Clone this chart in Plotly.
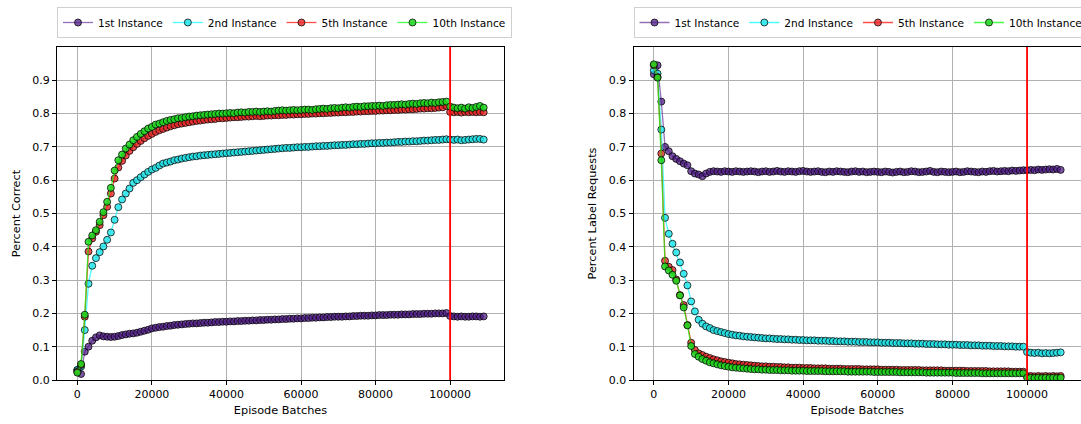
import plotly.graph_objects as go

episodes = [0, 1000, 2000, 3000, 4000, 5000, 6000, 7000, 8000, 9000,
            10000, 11000, 12000, 13000, 14000, 15000, 16000, 17000, 18000, 19000,
            20000, 21000, 22000, 23000, 24000, 25000, 26000, 27000, 28000, 29000,
            30000, 31000, 32000, 33000, 34000, 35000, 36000, 37000, 38000, 39000,
            40000, 41000, 42000, 43000, 44000, 45000, 46000, 47000, 48000, 49000,
            50000, 51000, 52000, 53000, 54000, 55000, 56000, 57000, 58000, 59000,
            60000, 61000, 62000, 63000, 64000, 65000, 66000, 67000, 68000, 69000,
            70000, 71000, 72000, 73000, 74000, 75000, 76000, 77000, 78000, 79000,
            80000, 81000, 82000, 83000, 84000, 85000, 86000, 87000, 88000, 89000,
            90000, 91000, 92000, 93000, 94000, 95000, 96000, 97000, 98000, 99000,
            100000, 101000, 102000, 103000, 104000, 105000, 106000, 107000, 108000, 109000]

series_names = ["1st Instance", "2nd Instance", "5th Instance", "10th Instance"]

# ---- Percent Correct ----
correct_1st = [0.030, 0.018, 0.085, 0.100, 0.118, 0.128, 0.134, 0.131, 0.130, 0.129,
               0.130, 0.132, 0.135, 0.137, 0.139, 0.140, 0.142, 0.145, 0.148, 0.151,
               0.155, 0.157, 0.159, 0.160, 0.162, 0.163, 0.165, 0.166, 0.167, 0.168,
               0.169, 0.170, 0.170, 0.171, 0.172, 0.172, 0.173, 0.174, 0.174, 0.175,
               0.175, 0.176, 0.176, 0.177, 0.177, 0.178, 0.178, 0.179, 0.179, 0.180,
               0.180, 0.181, 0.181, 0.182, 0.182, 0.183, 0.183, 0.184, 0.184, 0.185,
               0.185, 0.186, 0.186, 0.187, 0.187, 0.188, 0.188, 0.189, 0.189, 0.190,
               0.190, 0.190, 0.191, 0.191, 0.192, 0.192, 0.193, 0.193, 0.193, 0.194,
               0.194, 0.195, 0.195, 0.195, 0.196, 0.196, 0.196, 0.197, 0.197, 0.197,
               0.198, 0.198, 0.198, 0.199, 0.199, 0.199, 0.200, 0.200, 0.200, 0.201,
               0.192, 0.191, 0.190, 0.191, 0.190, 0.190, 0.191, 0.191, 0.190, 0.191]
correct_2nd = [0.030, 0.040, 0.150, 0.289, 0.343, 0.366, 0.384, 0.401, 0.421, 0.443,
               0.481, 0.519, 0.542, 0.560, 0.575, 0.592, 0.600, 0.609, 0.617, 0.625,
               0.632, 0.637, 0.644, 0.650, 0.653, 0.656, 0.660, 0.662, 0.665, 0.667,
               0.669, 0.671, 0.672, 0.674, 0.675, 0.676, 0.677, 0.678, 0.679, 0.680,
               0.681, 0.682, 0.683, 0.684, 0.685, 0.686, 0.687, 0.688, 0.689, 0.690,
               0.691, 0.692, 0.693, 0.694, 0.695, 0.696, 0.697, 0.697, 0.698, 0.699,
               0.699, 0.700, 0.700, 0.701, 0.702, 0.702, 0.703, 0.703, 0.704, 0.705,
               0.705, 0.706, 0.706, 0.707, 0.708, 0.708, 0.709, 0.709, 0.710, 0.711,
               0.711, 0.712, 0.712, 0.713, 0.713, 0.714, 0.715, 0.715, 0.716, 0.716,
               0.717, 0.717, 0.718, 0.719, 0.719, 0.720, 0.721, 0.721, 0.722, 0.723,
               0.722, 0.721, 0.722, 0.720, 0.721, 0.722, 0.723, 0.724, 0.724, 0.722]
correct_5th = [0.025, 0.045, 0.190, 0.386, 0.425, 0.445, 0.465, 0.495, 0.520, 0.560,
               0.605, 0.638, 0.658, 0.674, 0.688, 0.699, 0.709, 0.718, 0.726, 0.733,
               0.739, 0.745, 0.750, 0.754, 0.758, 0.762, 0.765, 0.768, 0.770, 0.772,
               0.774, 0.776, 0.778, 0.779, 0.781, 0.782, 0.783, 0.784, 0.786, 0.786,
               0.787, 0.788, 0.789, 0.789, 0.790, 0.791, 0.791, 0.792, 0.793, 0.792,
               0.793, 0.794, 0.794, 0.795, 0.795, 0.796, 0.796, 0.797, 0.797, 0.798,
               0.798, 0.799, 0.799, 0.800, 0.800, 0.801, 0.801, 0.802, 0.802, 0.803,
               0.803, 0.804, 0.804, 0.805, 0.805, 0.806, 0.806, 0.807, 0.807, 0.808,
               0.808, 0.809, 0.809, 0.810, 0.810, 0.811, 0.811, 0.812, 0.812, 0.813,
               0.813, 0.814, 0.815, 0.815, 0.816, 0.816, 0.817, 0.818, 0.819, 0.823,
               0.805, 0.804, 0.805, 0.803, 0.805, 0.804, 0.805, 0.804, 0.805, 0.804]
correct_10th = [0.022, 0.048, 0.196, 0.415, 0.434, 0.450, 0.475, 0.504, 0.535, 0.577,
                0.629, 0.660, 0.677, 0.695, 0.707, 0.720, 0.730, 0.739, 0.747, 0.755,
                0.760, 0.767, 0.770, 0.774, 0.778, 0.781, 0.783, 0.786, 0.787, 0.789,
                0.791, 0.792, 0.794, 0.795, 0.796, 0.797, 0.798, 0.799, 0.800, 0.800,
                0.801, 0.802, 0.801, 0.803, 0.804, 0.803, 0.805, 0.805, 0.806, 0.805,
                0.806, 0.807, 0.806, 0.808, 0.809, 0.810, 0.809, 0.810, 0.811, 0.810,
                0.811, 0.812, 0.812, 0.811, 0.813, 0.814, 0.815, 0.814, 0.816, 0.817,
                0.816, 0.818, 0.819, 0.818, 0.820, 0.821, 0.820, 0.822, 0.822, 0.823,
                0.823, 0.824, 0.823, 0.825, 0.826, 0.826, 0.827, 0.828, 0.827, 0.829,
                0.830, 0.829, 0.831, 0.832, 0.831, 0.833, 0.832, 0.834, 0.835, 0.836,
                0.821, 0.818, 0.816, 0.818, 0.815, 0.819, 0.817, 0.820, 0.823, 0.818]

# ---- Percent Label Requests ----
requests_1st = [0.918, 0.945, 0.836, 0.700, 0.687, 0.672, 0.664, 0.657, 0.650, 0.645,
                0.627, 0.620, 0.617, 0.612, 0.620, 0.625, 0.627, 0.626, 0.625, 0.627,
                0.626, 0.625, 0.627, 0.626, 0.625, 0.626, 0.627, 0.626, 0.624, 0.626,
                0.627, 0.625, 0.626, 0.628, 0.626, 0.625, 0.627, 0.626, 0.625, 0.627,
                0.628, 0.626, 0.625, 0.626, 0.627, 0.625, 0.624, 0.626, 0.625, 0.627,
                0.626, 0.625, 0.624, 0.626, 0.627, 0.625, 0.626, 0.624, 0.625, 0.626,
                0.625, 0.624, 0.626, 0.625, 0.623, 0.625, 0.626, 0.624, 0.625, 0.627,
                0.626, 0.624, 0.625, 0.626, 0.628, 0.625, 0.624, 0.626, 0.625, 0.624,
                0.625, 0.626, 0.624, 0.625, 0.627, 0.626, 0.625, 0.624, 0.626, 0.625,
                0.627, 0.628, 0.626, 0.627, 0.628, 0.627, 0.629, 0.628, 0.629, 0.630,
                0.630, 0.631, 0.630, 0.632, 0.631, 0.632, 0.633, 0.632, 0.634, 0.631]
requests_2nd = [0.930, 0.920, 0.752, 0.487, 0.439, 0.409, 0.383, 0.353, 0.319, 0.284,
                0.236, 0.206, 0.181, 0.169, 0.161, 0.156, 0.150, 0.147, 0.144, 0.141,
                0.138, 0.136, 0.134, 0.133, 0.131, 0.130, 0.129, 0.128, 0.127, 0.126,
                0.125, 0.125, 0.124, 0.123, 0.123, 0.122, 0.122, 0.121, 0.121, 0.120,
                0.120, 0.119, 0.119, 0.119, 0.118, 0.118, 0.118, 0.117, 0.117, 0.116,
                0.116, 0.116, 0.115, 0.115, 0.115, 0.114, 0.114, 0.114, 0.113, 0.113,
                0.113, 0.112, 0.112, 0.112, 0.111, 0.111, 0.111, 0.110, 0.110, 0.110,
                0.109, 0.109, 0.109, 0.108, 0.108, 0.108, 0.107, 0.107, 0.107, 0.106,
                0.106, 0.106, 0.105, 0.105, 0.105, 0.104, 0.104, 0.104, 0.103, 0.103,
                0.103, 0.102, 0.102, 0.102, 0.101, 0.101, 0.101, 0.100, 0.100, 0.100,
                0.084, 0.082, 0.081, 0.082, 0.080, 0.081, 0.080, 0.081, 0.082, 0.083]
requests_5th = [0.945, 0.910, 0.680, 0.358, 0.340, 0.330, 0.302, 0.255, 0.225, 0.165,
                0.112, 0.090, 0.080, 0.075, 0.070, 0.066, 0.062, 0.059, 0.056, 0.054,
                0.052, 0.050, 0.048, 0.047, 0.046, 0.045, 0.044, 0.043, 0.042, 0.041,
                0.041, 0.040, 0.040, 0.039, 0.039, 0.038, 0.038, 0.037, 0.037, 0.037,
                0.036, 0.036, 0.036, 0.035, 0.035, 0.035, 0.035, 0.034, 0.034, 0.034,
                0.034, 0.033, 0.033, 0.033, 0.033, 0.033, 0.032, 0.032, 0.032, 0.032,
                0.032, 0.031, 0.031, 0.031, 0.031, 0.031, 0.030, 0.030, 0.030, 0.030,
                0.030, 0.030, 0.029, 0.029, 0.029, 0.029, 0.029, 0.029, 0.028, 0.028,
                0.028, 0.028, 0.028, 0.028, 0.027, 0.027, 0.027, 0.027, 0.027, 0.027,
                0.026, 0.026, 0.026, 0.026, 0.026, 0.026, 0.025, 0.025, 0.025, 0.025,
                0.012, 0.012, 0.011, 0.012, 0.011, 0.012, 0.011, 0.012, 0.011, 0.012]
requests_10th = [0.948, 0.908, 0.660, 0.341, 0.329, 0.316, 0.298, 0.254, 0.218, 0.164,
                 0.102, 0.078, 0.070, 0.063, 0.058, 0.053, 0.050, 0.047, 0.044, 0.042,
                 0.040, 0.038, 0.037, 0.036, 0.035, 0.034, 0.033, 0.032, 0.032, 0.031,
                 0.031, 0.030, 0.030, 0.030, 0.029, 0.029, 0.029, 0.028, 0.028, 0.028,
                 0.028, 0.027, 0.027, 0.027, 0.027, 0.027, 0.026, 0.026, 0.026, 0.026,
                 0.026, 0.026, 0.025, 0.025, 0.025, 0.025, 0.025, 0.025, 0.025, 0.024,
                 0.024, 0.024, 0.024, 0.024, 0.024, 0.024, 0.023, 0.023, 0.023, 0.023,
                 0.023, 0.023, 0.023, 0.022, 0.022, 0.022, 0.022, 0.022, 0.022, 0.022,
                 0.022, 0.021, 0.021, 0.021, 0.021, 0.021, 0.021, 0.021, 0.020, 0.020,
                 0.020, 0.020, 0.020, 0.020, 0.020, 0.020, 0.020, 0.020, 0.020, 0.020,
                 0.007, 0.007, 0.006, 0.007, 0.006, 0.007, 0.006, 0.007, 0.006, 0.007]

x_ticks = [0, 20000, 40000, 60000, 80000, 100000]
y_ticks = [0.0, 0.1, 0.2, 0.3, 0.4, 0.5, 0.6, 0.7, 0.8, 0.9]
switch_point = 100000

line_colors = ["rgba(102,51,153,0.7)", "rgba(0,255,255,0.7)", "rgba(255,0,0,0.7)", "rgba(0,255,0,0.7)"]
marker_colors = ["rgba(80,30,135,0.75)", "rgba(30,228,232,0.8)", "rgba(235,40,40,0.8)", "rgba(30,215,30,0.85)"]

FONT = "DejaVu Sans"
fig = go.Figure()

panels = [
    ("x", "y", "legend", [correct_1st, correct_2nd, correct_5th, correct_10th]),
    ("x2", "y2", "legend2", [requests_1st, requests_2nd, requests_5th, requests_10th]),
]
for xa, ya, lg, data in panels:
    for name, lc, mc, vals in zip(series_names, line_colors, marker_colors, data):
        fig.add_trace(go.Scatter(
            x=episodes, y=vals, name=name, mode="lines+markers",
            xaxis=xa, yaxis=ya, legend=lg,
            line=dict(color=lc, width=1.3),
            marker=dict(color=mc, size=7, line=dict(color="rgba(0,0,0,0.75)", width=1)),
        ))
    fig.add_shape(type="line", xref=xa, yref=f"{ya} domain",
                  x0=switch_point, x1=switch_point, y0=0, y1=1,
                  line=dict(color="red", width=1.8), layer="above")

axis_common = dict(
    range=[-5450, 114450], tickvals=x_ticks, tickformat="d",
    ticks="outside", ticklen=4, tickcolor="black", tickwidth=1,
    showline=True, mirror=True, linecolor="black", linewidth=1,
    showgrid=True, gridcolor="#b0b0b0", gridwidth=1, zeroline=False,
    tickfont=dict(family=FONT, size=11, color="black"),
    automargin=False,
)
yaxis_common = dict(
    range=[0, 1.0], tickvals=y_ticks, tickformat=".1f",
    ticks="outside", ticklen=4, tickcolor="black", tickwidth=1,
    showline=True, mirror=True, linecolor="black", linewidth=1,
    showgrid=True, gridcolor="#b0b0b0", gridwidth=1, zeroline=False,
    tickfont=dict(family=FONT, size=11, color="black"),
    automargin=False,
)

ydom = [44 / 424, 377 / 424]
legend_common = dict(
    orientation="h", yanchor="top", y=1 - 7 / 424, xanchor="left",
    bgcolor="white", bordercolor="#d0d0d0", borderwidth=1,
    font=dict(family=FONT, size=10.6, color="black"),
    itemwidth=30,
)

fig.update_layout(
    width=1081, height=424,
    margin=dict(l=0, r=0, t=0, b=0, autoexpand=False),
    paper_bgcolor="white", plot_bgcolor="white",
    font=dict(family=FONT, size=11, color="black"),
    showlegend=True,
    xaxis=dict(domain=[57 / 1081, 504 / 1081], anchor="y",
               title=dict(text="Episode Batches", standoff=5, font=dict(size=11.3)), **axis_common),
    yaxis=dict(domain=ydom, anchor="x",
               title=dict(text="Percent Correct", standoff=9, font=dict(size=11.3)), **yaxis_common),
    xaxis2=dict(domain=[633.5 / 1081, 1.0], anchor="y2",
                title=dict(text="Episode Batches", standoff=5, font=dict(size=11.3)), **axis_common),
    yaxis2=dict(domain=ydom, anchor="x2",
                title=dict(text="Percent Label Requests", standoff=9, font=dict(size=11.3)), **yaxis_common),
    legend=dict(x=57 / 1081, **legend_common),
    legend2=dict(x=633.5 / 1081, **legend_common),
)

fig.write_html("out.html")
